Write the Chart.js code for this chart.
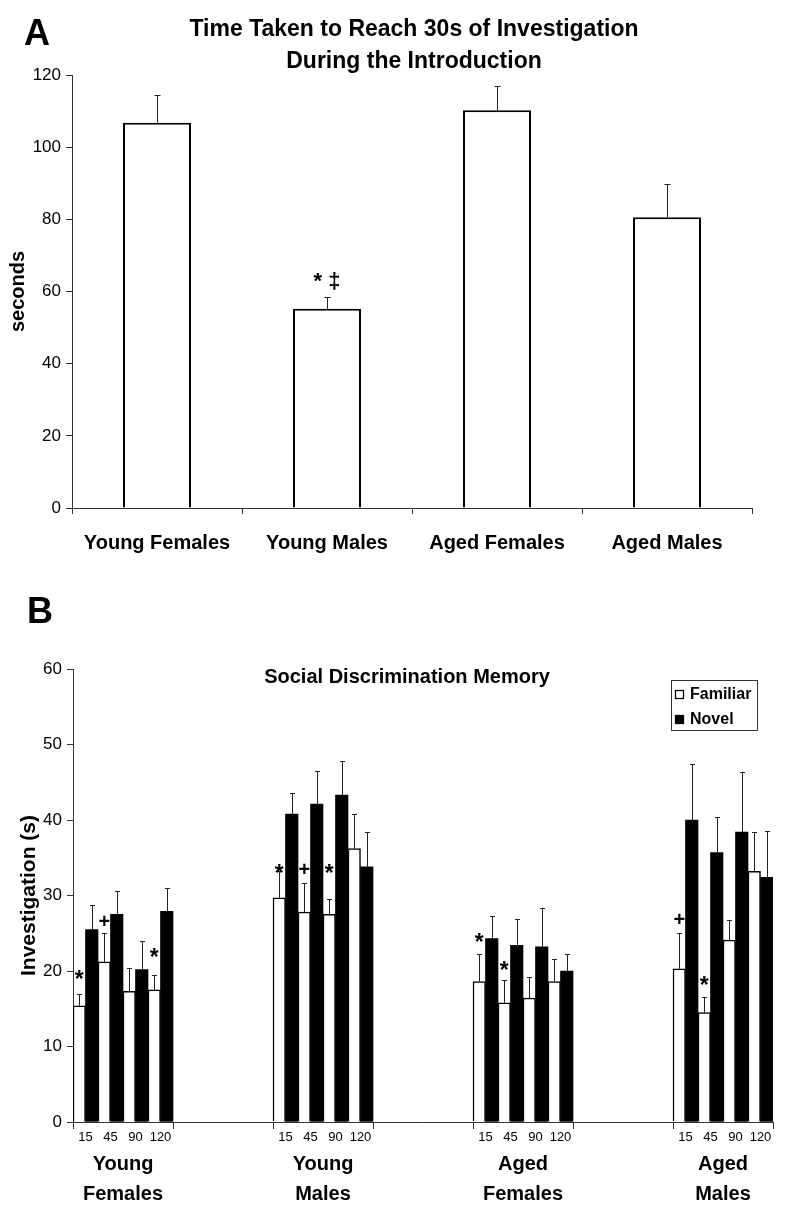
<!DOCTYPE html>
<html>
<head>
<meta charset="utf-8">
<script src="https://cdn.jsdelivr.net/npm/chart.js@4.4.1/dist/chart.umd.min.js"></script>
<style>
  body { margin: 0; background: #fff; width: 800px; height: 1214px; position: relative; overflow: hidden; }
  canvas { position: absolute; left: 0; }
  #chartA { top: 0; }
  #chartB { top: 580px; }
</style>
</head>
<body>
<canvas id="chartA" width="800" height="570"></canvas>
<canvas id="chartB" width="800" height="634"></canvas>
<script>
const FONT = "'Liberation Sans', Arial, sans-serif";
const INK = '#000';
const AXIS = '#333';

// ---- Panel A data ----
const groupsA = ['Young Females', 'Young Males', 'Aged Females', 'Aged Males'];
const timeA = [106.8, 55.2, 110.2, 80.6];
const timeErrA = [7.6, 3.2, 6.8, 9.1];
const sigA = ['', '* \u2021', '', ''];
const sigAtA = [null, 63.0, null, null];

// ---- Panel B data ----
const groupsB = [['Young', 'Females'], ['Young', 'Males'], ['Aged', 'Females'], ['Aged', 'Males']];
const delays = ['15', '45', '90', '120'];
const familiar = [[15.4, 21.2, 17.3, 17.5], [29.7, 27.8, 27.5, 36.2], [18.6, 15.8, 16.4, 18.6], [20.3, 14.5, 24.1, 33.2]];
const familiarErr = [[1.5, 3.8, 3.1, 2.0], [3.5, 3.8, 2.1, 4.6], [3.7, 3.0, 2.8, 3.0], [4.7, 2.0, 2.6, 5.2]];
const novel = [[25.5, 27.5, 20.2, 27.9], [40.8, 42.1, 43.3, 33.8], [24.3, 23.4, 23.2, 20.0], [40.0, 35.7, 38.4, 32.4]];
const novelErr = [[3.2, 3.1, 3.8, 3.1], [2.8, 4.4, 4.5, 4.6], [3.0, 3.5, 5.1, 2.3], [7.4, 4.7, 8.0, 6.2]];
const famSig = [['*', '+', '', '*'], ['*', '+', '*', ''], ['*', '*', '', ''], ['+', '*', '', '']];
const famSigAt = [[19.5, 26.7, null, 22.4], [33.6, 33.6, 33.6, null], [24.5, 20.7, null, null], [26.9, 18.7, null, null]];

// groups sit in every other slot, empty slots make the gaps
const nSlots = groupsB.length * 2 - 1;
let xLabelsB = [], groupLabelsB = [];
let famData = [], famErrData = [], novData = [], novErrData = [], sigItemsB = [];
for (let s = 0; s < nSlots; s++) {
    const g = s % 2 === 0 ? s / 2 : -1;
    groupLabelsB.push(g >= 0 ? groupsB[g] : '');
    for (let t = 0; t < delays.length; t++) {
        xLabelsB.push(g >= 0 ? delays[t] : '');
        famData.push(g >= 0 ? familiar[g][t] : null);
        famErrData.push(g >= 0 ? familiarErr[g][t] : null);
        novData.push(g >= 0 ? novel[g][t] : null);
        novErrData.push(g >= 0 ? novelErr[g][t] : null);
        if (g >= 0 && famSig[g][t]) {
            sigItemsB.push({ index: xLabelsB.length - 1, text: famSig[g][t], value: famSigAt[g][t] });
        }
    }
}
let sigItemsA = [];
sigA.forEach((t, i) => { if (t) sigItemsA.push({ index: i, text: t, value: sigAtA[i] }); });

// ---- plugins ----
const errorBars = {
    id: 'errorBars',
    afterDatasetsDraw(chart, args, opts) {
        const ctx = chart.ctx, ys = chart.scales.y;
        chart.data.datasets.forEach((ds, di) => {
            if (!ds.errors) return;
            chart.getDatasetMeta(di).data.forEach((bar, i) => {
                const v = ds.data[i], e = ds.errors[i];
                if (v == null || e == null) return;
                const x = Math.round(bar.x) + 0.5;
                const top = Math.round(ys.getPixelForValue(v + e)) + 0.5;
                ctx.save();
                ctx.strokeStyle = '#222';
                ctx.lineWidth = 1;
                ctx.beginPath();
                ctx.moveTo(x, bar.y);
                ctx.lineTo(x, top);
                ctx.moveTo(x - opts.cap, top);
                ctx.lineTo(x + opts.cap, top);
                ctx.stroke();
                ctx.restore();
            });
        });
    }
};

const sigMarks = {
    id: 'sigMarks',
    afterDatasetsDraw(chart, args, opts) {
        const ctx = chart.ctx, ys = chart.scales.y;
        const meta = chart.getDatasetMeta(0);
        ctx.save();
        ctx.fillStyle = INK;
        ctx.textAlign = 'center';
        ctx.textBaseline = 'alphabetic';
        opts.items.forEach(m => {
            ctx.font = 'bold ' + (opts.sizes[m.text] || opts.sizes.other) + 'px ' + FONT;
            const bar = meta.data[m.index];
            const tm = ctx.measureText(m.text);
            const yc = ys.getPixelForValue(m.value);
            ctx.fillText(m.text, bar.x, yc + (tm.actualBoundingBoxAscent - tm.actualBoundingBoxDescent) / 2);
        });
        ctx.restore();
    }
};

const panelText = {
    id: 'panelText',
    afterDraw(chart, args, opts) {
        const ctx = chart.ctx;
        opts.items.forEach(it => {
            ctx.save();
            ctx.font = it.font;
            ctx.fillStyle = INK;
            ctx.textAlign = it.align || 'center';
            ctx.textBaseline = 'middle';
            ctx.fillText(it.text, it.x, it.y);
            ctx.restore();
        });
    }
};

const boxLegend = {
    id: 'boxLegend',
    afterDraw(chart, args, opts) {
        if (!opts.show) return;
        const { ctx, chartArea } = chart;
        const x = chartArea.right - opts.fromRight, y = chartArea.top + opts.fromTop;
        ctx.save();
        ctx.strokeStyle = AXIS;
        ctx.lineWidth = 1;
        ctx.strokeRect(x + 0.5, y + 0.5, opts.width, opts.height);
        ctx.font = 'bold 16px ' + FONT;
        ctx.textBaseline = 'middle';
        ctx.textAlign = 'left';
        chart.data.datasets.forEach((ds, i) => {
            const cy = y + opts.rowTop + i * opts.rowGap;
            ctx.fillStyle = ds.backgroundColor;
            ctx.fillRect(x + 4, cy - 4, 9, 9);
            ctx.strokeStyle = INK;
            ctx.lineWidth = 1.3;
            ctx.strokeRect(x + 4.5, cy - 3.5, 8, 8);
            ctx.fillStyle = INK;
            ctx.fillText(ds.label, x + 19, cy + 1);
        });
        ctx.restore();
    }
};

// ---- Panel A ----
const configA = {
    type: 'bar',
    data: {
        labels: groupsA,
        datasets: [{
            label: 'seconds',
            data: timeA,
            errors: timeErrA,
            backgroundColor: '#fff',
            borderColor: INK,
            borderWidth: 2,
            categoryPercentage: 1,
            barPercentage: 0.4
        }]
    },
    options: {
        responsive: false,
        animation: false,
        layout: { padding: { top: 75, right: 48, bottom: 12, left: 0 } },
        plugins: {
            legend: { display: false },
            tooltip: { enabled: false },
            errorBars: { cap: 3 },
            sigMarks: { sizes: { other: 22 }, items: sigItemsA },
            panelText: {
                items: [
                    { text: 'A', x: 37, y: 35, font: 'bold 36px ' + FONT },
                    { text: 'Time Taken to Reach 30s of Investigation', x: 414, y: 30, font: 'bold 23px ' + FONT },
                    { text: 'During the Introduction', x: 414, y: 62, font: 'bold 23px ' + FONT }
                ]
            }
        },
        scales: {
            y: {
                min: 0,
                max: 120,
                ticks: { stepSize: 20, color: INK, padding: 5, font: { size: 17, family: FONT } },
                grid: { drawOnChartArea: false, tickLength: 6, color: AXIS },
                border: { color: AXIS },
                title: { display: true, text: 'seconds', color: INK, padding: { top: 6, bottom: 0 }, font: { size: 20, weight: 'bold', family: FONT } },
                afterFit(scale) { scale.width = 72; }
            },
            x: {
                ticks: { color: INK, padding: 17, autoSkip: false, maxRotation: 0, font: { size: 20, weight: 'bold', family: FONT } },
                grid: { drawOnChartArea: false, tickLength: 6, color: AXIS },
                border: { color: AXIS },
                afterFit(scale) { scale.height = 50; }
            }
        }
    },
    plugins: [errorBars, sigMarks, panelText, boxLegend]
};

// ---- Panel B ----
const configB = {
    type: 'bar',
    data: {
        labels: xLabelsB,
        datasets: [{
            label: 'Familiar',
            data: famData,
            errors: famErrData,
            backgroundColor: '#fff',
            borderColor: INK,
            borderWidth: 1.5,
            categoryPercentage: 1,
            barPercentage: 1
        }, {
            label: 'Novel',
            data: novData,
            errors: novErrData,
            backgroundColor: '#000',
            borderColor: INK,
            borderWidth: 0,
            categoryPercentage: 1,
            barPercentage: 1
        }]
    },
    options: {
        responsive: false,
        animation: false,
        layout: { padding: { top: 89, right: 27, bottom: 13, left: 0 } },
        plugins: {
            legend: { display: false },
            tooltip: { enabled: false },
            errorBars: { cap: 2.5 },
            sigMarks: { sizes: { '*': 23, other: 20 }, items: sigItemsB },
            panelText: {
                items: [
                    { text: 'B', x: 40, y: 33, font: 'bold 36px ' + FONT },
                    { text: 'Social Discrimination Memory', x: 407, y: 97, font: 'bold 20px ' + FONT }
                ]
            },
            boxLegend: { show: true, fromRight: 102, fromTop: 11, width: 86, height: 50, rowTop: 14, rowGap: 25 }
        },
        scales: {
            y: {
                min: 0,
                max: 60,
                ticks: { stepSize: 10, color: INK, padding: 5, font: { size: 17, family: FONT } },
                grid: { drawOnChartArea: false, tickLength: 6, color: AXIS },
                border: { color: AXIS },
                title: { display: true, text: 'Investigation (s)', color: INK, padding: { top: 17, bottom: 0 }, font: { size: 21, weight: 'bold', family: FONT } },
                afterFit(scale) { scale.width = 73; }
            },
            x: {
                weight: 0,
                ticks: { color: INK, padding: 1, autoSkip: false, maxRotation: 0, font: { size: 13, family: FONT } },
                grid: {
                    drawOnChartArea: false,
                    tickLength: 7,
                    color: c => (c.index === undefined || c.index % delays.length === 0) ? AXIS : 'rgba(0,0,0,0)'
                },
                border: { color: AXIS },
                afterFit(scale) { scale.height = 19; }
            },
            x2: {
                type: 'category',
                position: 'bottom',
                weight: 1,
                labels: groupLabelsB,
                offset: true,
                ticks: { color: INK, padding: 0, autoSkip: false, maxRotation: 0, font: { size: 20, weight: 'bold', family: FONT, lineHeight: 1.5 } },
                grid: { display: false },
                border: { display: false },
                afterFit(scale) { scale.height = 60; }
            }
        }
    },
    plugins: [errorBars, sigMarks, panelText, boxLegend]
};

const chartA = new Chart(document.getElementById('chartA'), configA);
const chartB = new Chart(document.getElementById('chartB'), configB);
</script>
</body>
</html>
